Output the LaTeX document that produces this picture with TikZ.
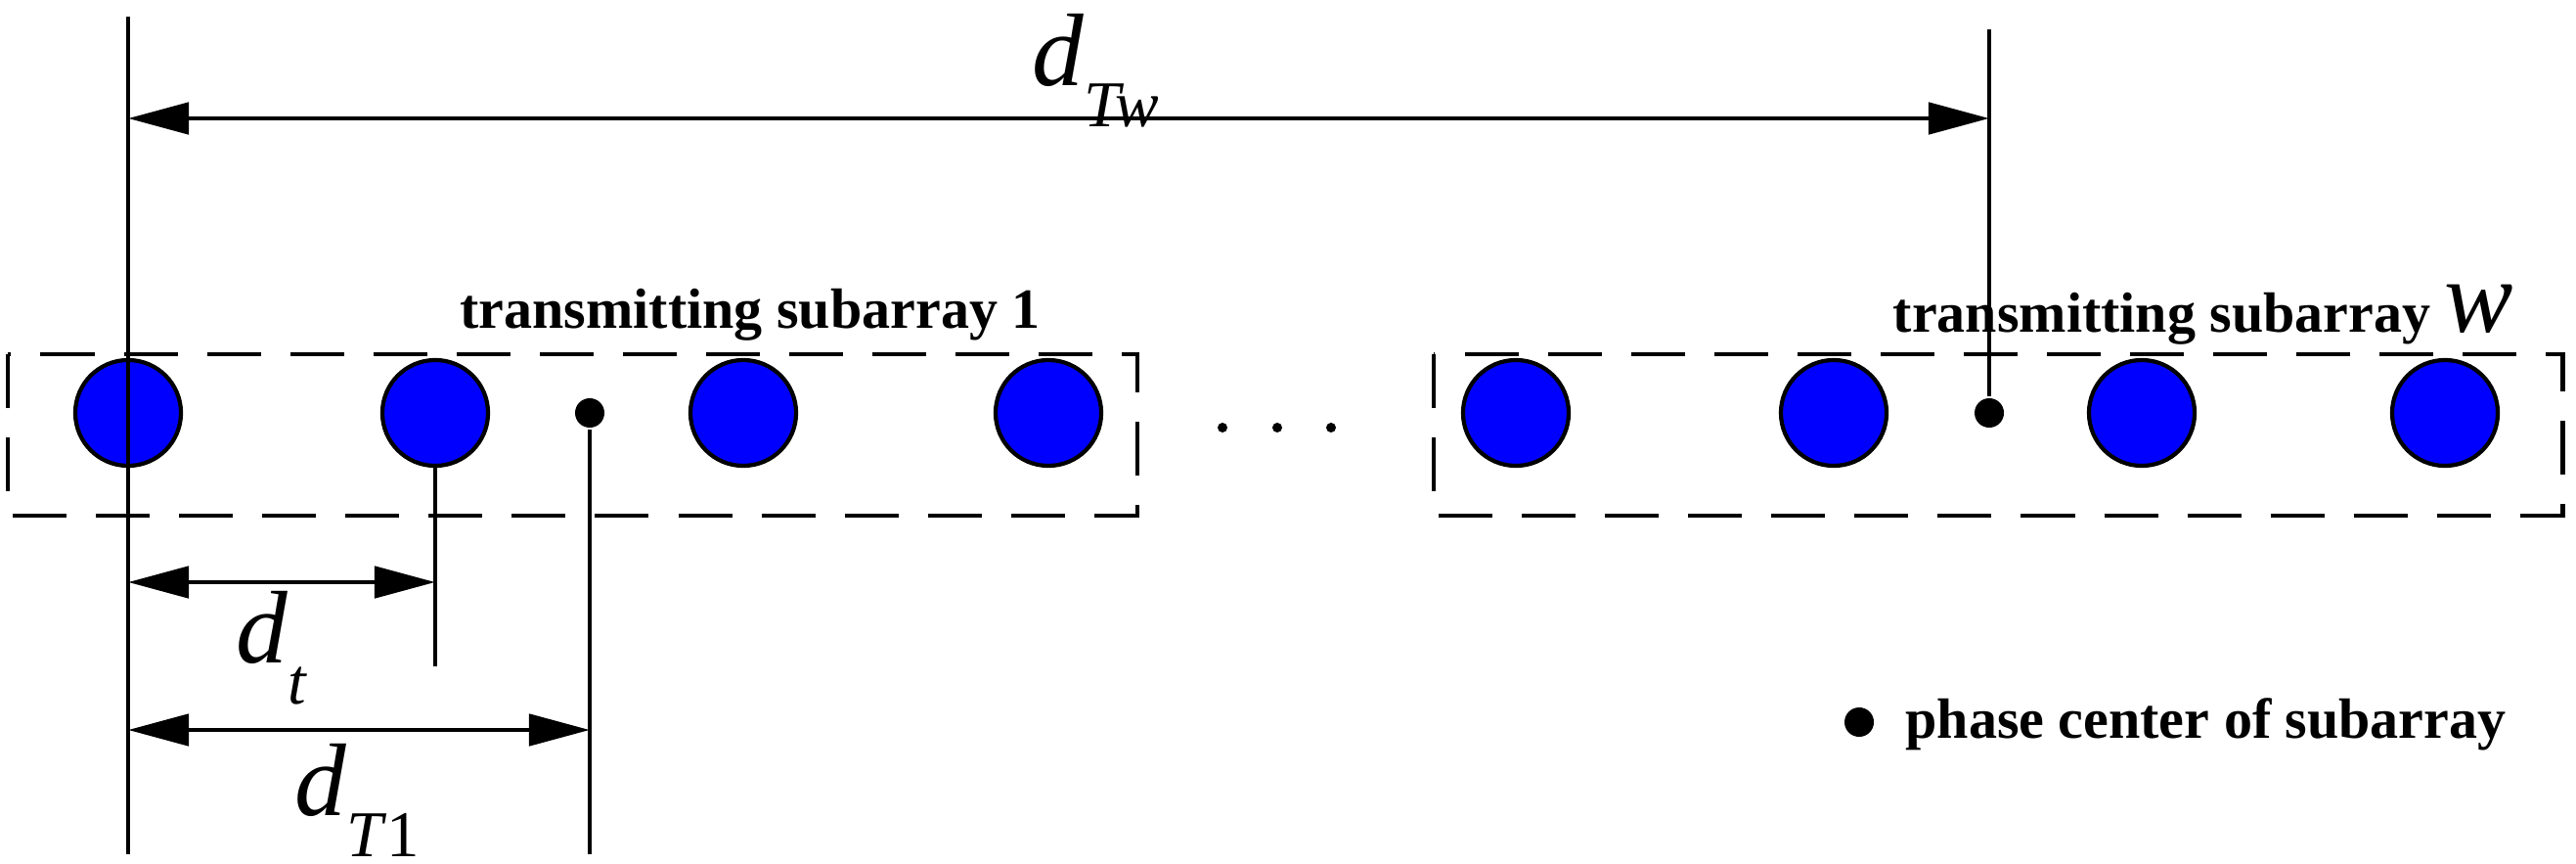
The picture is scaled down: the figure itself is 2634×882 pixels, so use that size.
\documentclass[tikz,border=0pt]{standalone}
\usepackage{fontspec}
\setmainfont{Liberation Serif}
\usetikzlibrary{arrows.meta}
\newcommand{\dlab}[1]{\textit{d}\raisebox{-0.4em}{\fontsize{19}{21}\selectfont #1}}
\begin{document}
\begin{tikzpicture}[x=0.01cm,y=-0.01cm,line width=1.4pt,
  elem/.style={circle,draw=black,fill=blue,minimum size=1.08cm,inner sep=0pt,line width=1.2pt},
  pc/.style={circle,fill=black,minimum size=0.3cm,inner sep=0pt},
  sbox/.style={draw,dash pattern=on 0.55cm off 0.3cm,line width=1.4pt},
  dim/.style={{Triangle[length=0.62cm,width=0.32cm]}-{Triangle[length=0.62cm,width=0.32cm]},line width=1.4pt},
  lab/.style={font=\fontsize{16.5}{18}\selectfont\bfseries,inner sep=0pt},
  mlab/.style={font=\fontsize{30}{32}\selectfont,inner sep=0pt}]
\useasboundingbox (0,0) rectangle (2634,882);
\draw[sbox] (8,362) rectangle (1163,527);
\draw[sbox] (1466,362) rectangle (2620,527);
\foreach \n/\x in {a/131,b/445,c/760,d/1072,e/1550,f/1875,g/2190,h/2500}
  \node[elem] (\n) at (\x,422) {};
\node[pc] (p1) at (603,422) {};
\node[pc] (p2) at (2034,422) {};
\foreach \x in {1250,1306,1361} \fill (\x,437) circle (5);
\coordinate (lt) at (131,17); \coordinate (lb) at (131,873);
\draw (lt) -- (lb);
\coordinate (rt) at (2034,30);
\draw (rt) -- (p2);
\coordinate (bb) at (445,681);
\draw (b) -- (bb);
\coordinate (pb) at (603,873);
\draw (p1) -- (pb);
\coordinate (w1) at (131,121); \coordinate (w2) at (2034,121);
\draw[dim] (w1) -- (w2);
\coordinate (t1) at (131,595); \coordinate (t2) at (445,595);
\draw[dim] (t1) -- (t2);
\coordinate (s1) at (131,746); \coordinate (s2) at (603,746);
\draw[dim] (s1) -- (s2);
\node[mlab] (ldw) at (1120,72) {\dlab{\textit{Tw}}};
\node[mlab] (ldt) at (278,662) {\dlab{\textit{t}}};
\node[mlab] (ldt1) at (365,818) {\dlab{\textit{T}1}};
\node[lab] (ts1) at (767,322) {transmitting subarray 1};
\node[lab] (tsw) at (2253,322) {transmitting subarray {\fontsize{30}{32}\selectfont\mdseries\itshape w}};
\node[pc] (leg) at (1901,738) {};
\node[lab,anchor=west] (legt) at (1946,740) {phase center of subarray};
\end{tikzpicture}
\end{document}
